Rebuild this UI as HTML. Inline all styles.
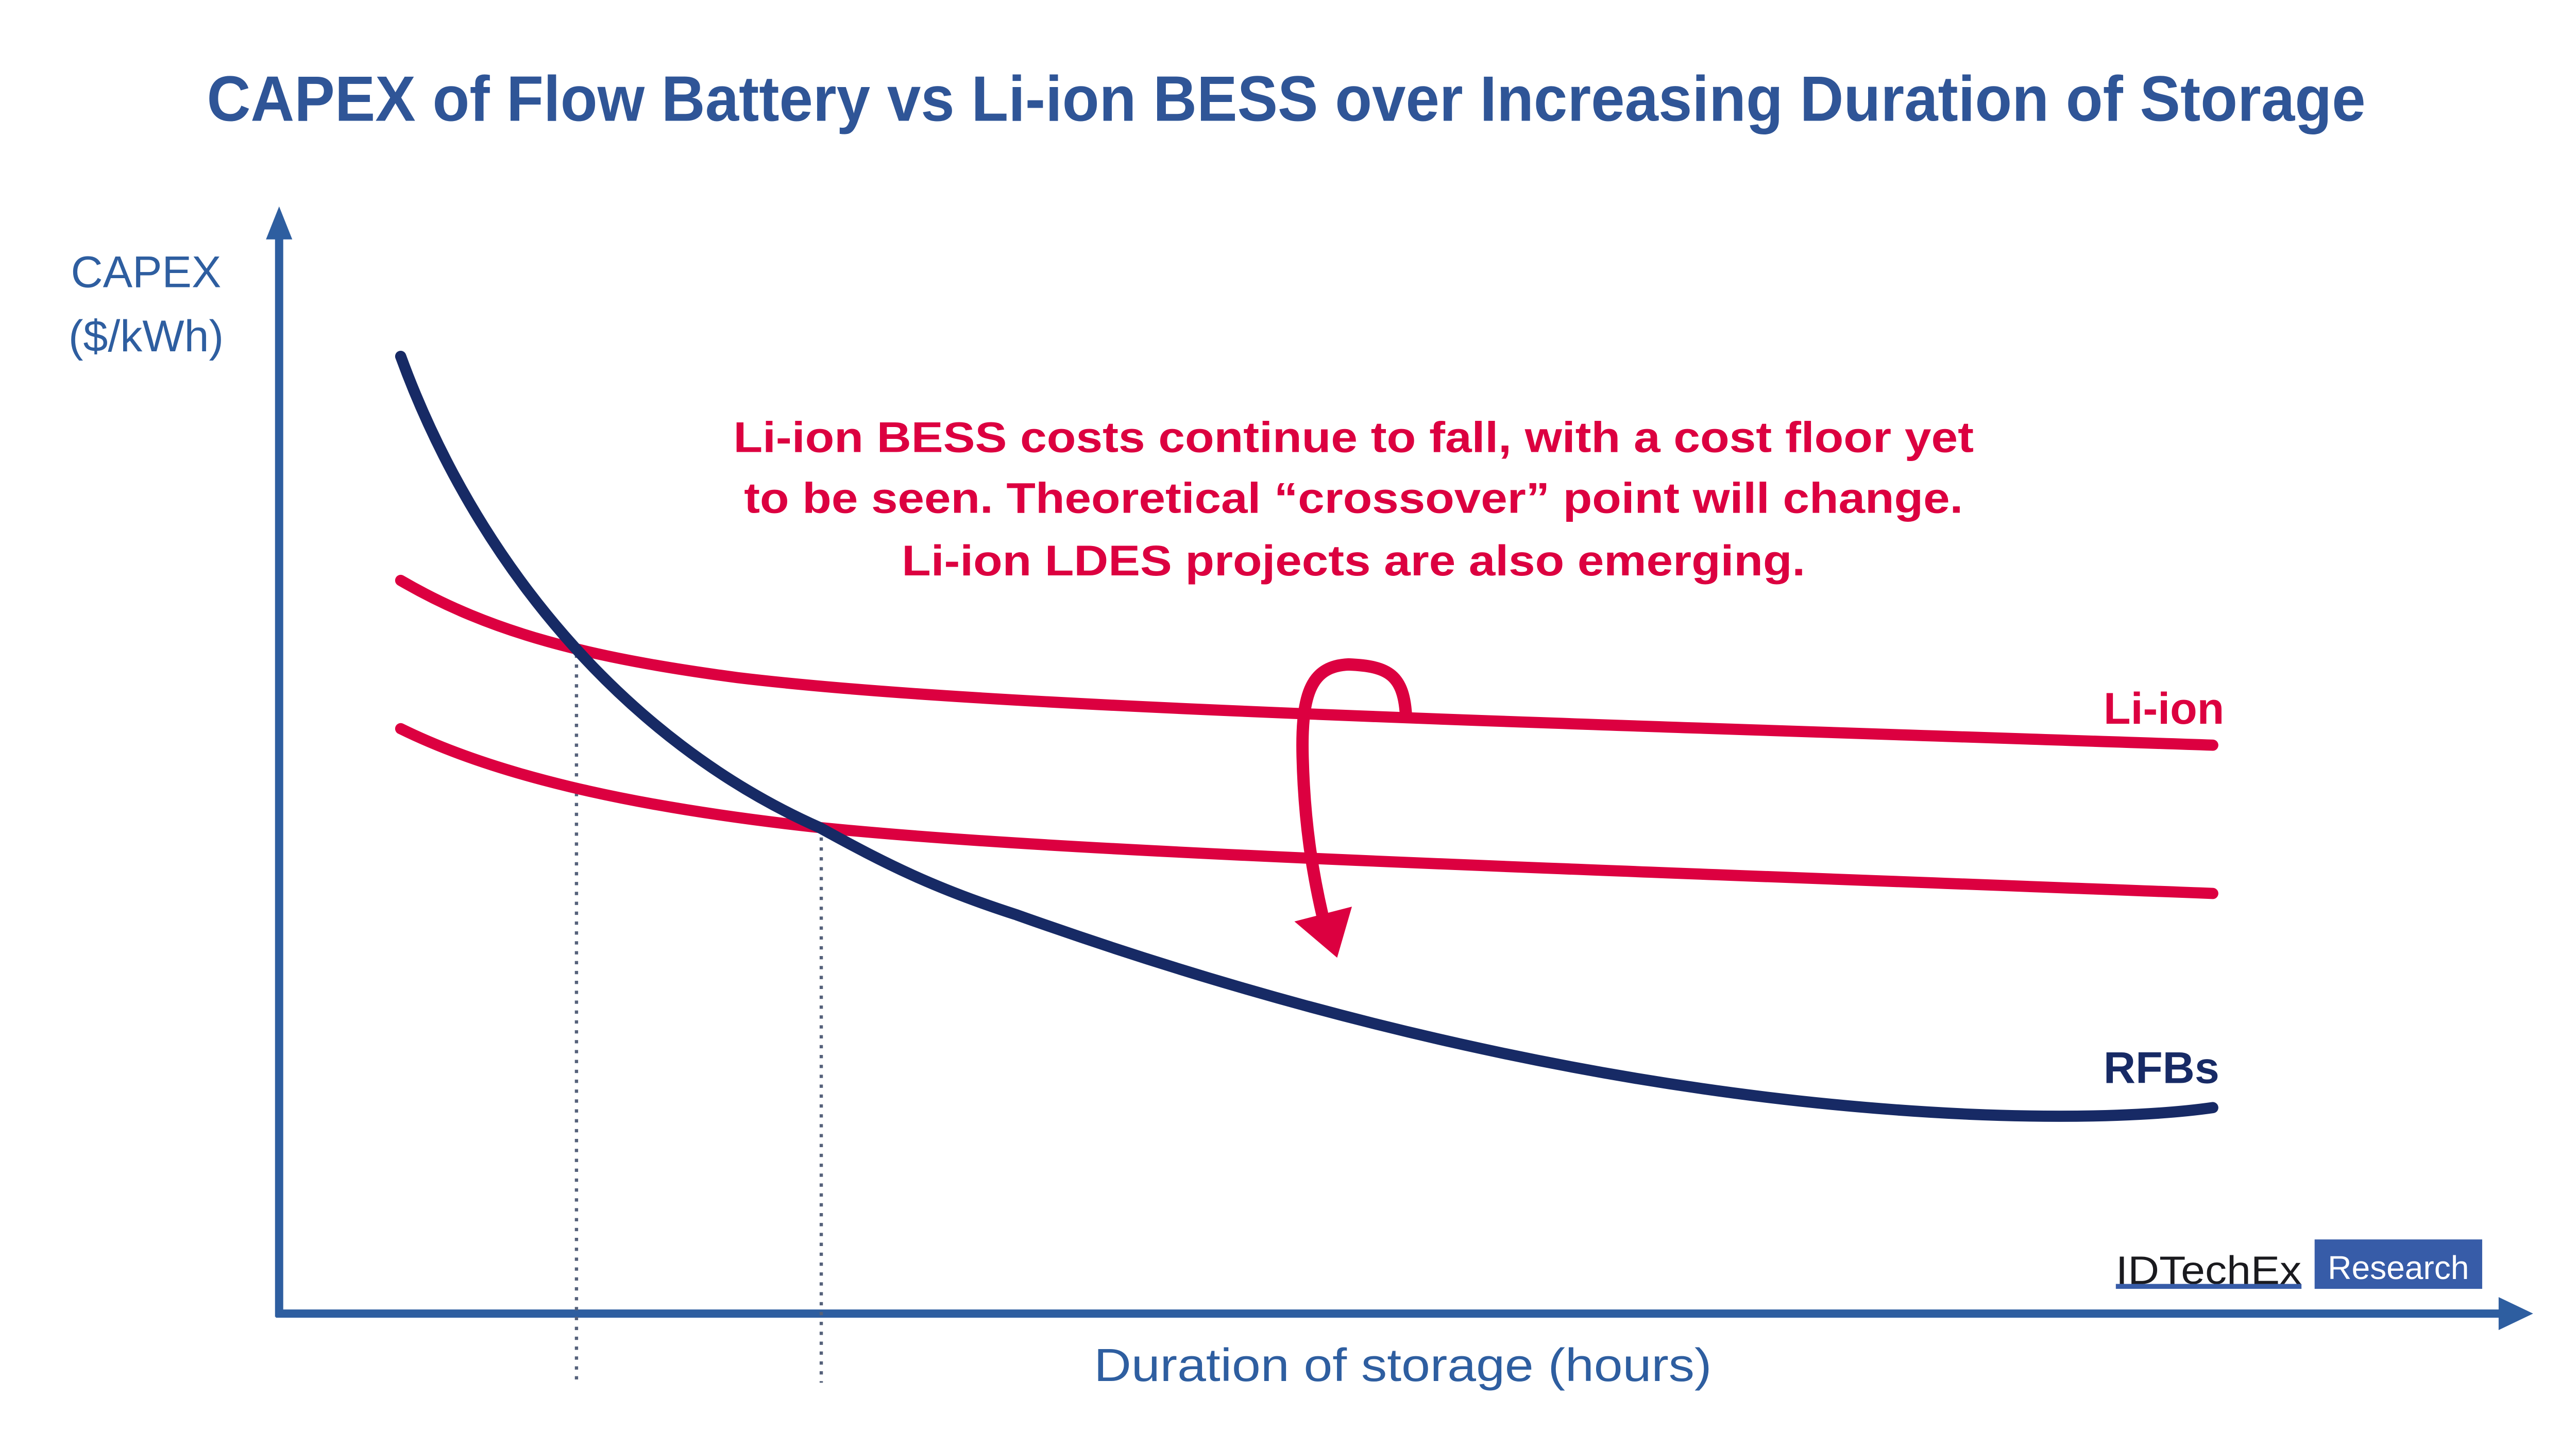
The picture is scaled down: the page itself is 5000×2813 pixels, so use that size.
<!DOCTYPE html>
<html><head><meta charset="utf-8"><style>
html,body{margin:0;padding:0;background:#fff;}
svg{display:block;}
</style></head><body>
<svg width="5000" height="2813" viewBox="1.1 0.7 1568 879.5" preserveAspectRatio="none" xmlns="http://www.w3.org/2000/svg" font-family="'Liberation Sans', sans-serif">
<rect x="0" y="0" width="1580" height="890" fill="#fff"/>
<text x="784" y="74" text-anchor="middle" font-size="39" font-weight="bold" fill="#2f5597" textLength="1314" lengthAdjust="spacingAndGlyphs">CAPEX of Flow Battery vs Li-ion BESS over Increasing Duration of Storage</text>
<!-- axes -->
<line x1="171" y1="140" x2="171" y2="800" stroke="#2e5ea0" stroke-width="5"/>
<polygon points="171,126 163,146 179,146" fill="#2e5ea0"/>
<line x1="169" y1="798" x2="1525" y2="798" stroke="#2e5ea0" stroke-width="5"/>
<polygon points="1543,798 1522,788 1522,808" fill="#2e5ea0"/>
<text x="90" y="175" text-anchor="middle" font-size="27" fill="#2e5ea0">CAPEX</text>
<text x="90" y="214" text-anchor="middle" font-size="27" fill="#2e5ea0">($/kWh)</text>
<text x="855" y="839" text-anchor="middle" font-size="28" fill="#2e5ea0" textLength="376" lengthAdjust="spacingAndGlyphs">Duration of storage (hours)</text>
<!-- dotted lines -->
<line x1="352" y1="392" x2="352" y2="840" stroke="#55617a" stroke-width="2" stroke-dasharray="2,4"/>
<line x1="501" y1="503" x2="501" y2="840" stroke="#55617a" stroke-width="2" stroke-dasharray="2,4"/>
<!-- Li-ion curves -->
<path d="M245,353 C300,385 360,400 450,412 C600,430 900,438 1348,453" fill="none" stroke="#dc0040" stroke-width="6.8" stroke-linecap="round"/>
<path d="M245,443 C300,470 380,490 500,503 C650,518 900,526 1348,543" fill="none" stroke="#dc0040" stroke-width="6.8" stroke-linecap="round"/>
<!-- RFB -->
<path d="M245,217 C290,340 380,450 500,503 C540,525 570,540 620,556 C800,620 1000,668 1200,677 C1270,680 1320,677 1348,673" fill="none" stroke="#172a65" stroke-width="6.8" stroke-linecap="round"/>
<!-- red loop arrow -->
<path d="M857,437 C856,410 846,405 822,404 C800,405 793,420 794,460 C795,500 800,530 806,556" fill="none" stroke="#dc0040" stroke-width="7.5"/>
<polygon points="815,582 789,560 824,551" fill="#dc0040"/>
<!-- annotation -->
<g font-size="26" font-weight="bold" fill="#dc0040" text-anchor="middle">
<text x="825" y="275" textLength="755" lengthAdjust="spacingAndGlyphs">Li-ion BESS costs continue to fall, with a cost floor yet</text>
<text x="825" y="312" textLength="742" lengthAdjust="spacingAndGlyphs">to be seen. Theoretical “crossover” point will change.</text>
<text x="825" y="350" textLength="550" lengthAdjust="spacingAndGlyphs">Li-ion LDES projects are also emerging.</text>
</g>
<text x="1355" y="440" text-anchor="end" font-size="27" font-weight="bold" fill="#dc0040">Li-ion</text>
<text x="1352" y="658" text-anchor="end" font-size="27" font-weight="bold" fill="#172a65">RFBs</text>
<!-- logo -->
<text x="1289" y="780" font-size="24" fill="#1a1a1e" textLength="113" lengthAdjust="spacingAndGlyphs">IDTechEx</text>
<rect x="1289" y="780" width="113" height="3" fill="#375ca8"/>
<rect x="1410" y="753" width="102" height="30" fill="#375ca8"/>
<text x="1461" y="777" text-anchor="middle" font-size="20" fill="#fff" textLength="86" lengthAdjust="spacingAndGlyphs">Research</text>
</svg>
</body></html>
